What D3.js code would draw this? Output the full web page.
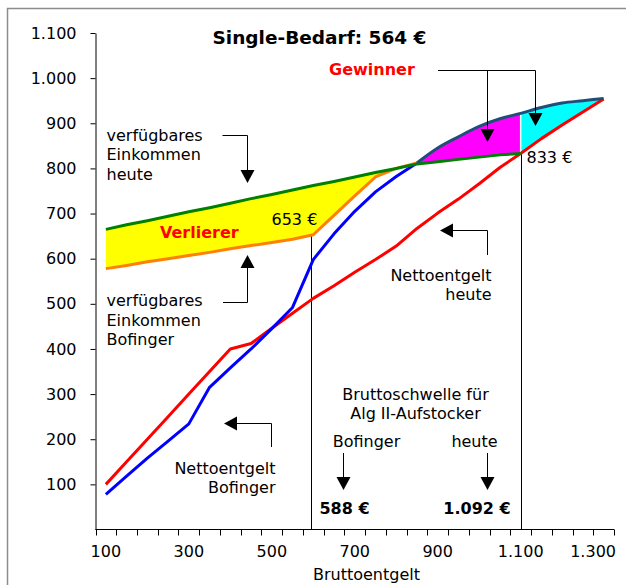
<!DOCTYPE html>
<html><head><meta charset="utf-8">
<script src="https://cdn.jsdelivr.net/npm/d3@7"></script>
<style>
body{margin:0;background:#fff}
svg{display:block}
text{font-family:"DejaVu Sans",Verdana,sans-serif;fill:#000}
</style>
</head><body>
<svg id="chart" width="626" height="585"></svg>
<script>
// ---------- data ----------
const grossCategories = [100,150,200,250,300,350,400,450,500,550,600,650,700,750,800,850,900,950,1000,1050,1100,1150,1200,1250,1300];
const verfuegbarHeute    = [665,675,684,694,704,713,723,733,742,752,762,771,781,791,800,810,815,820,825,830,833,null,null,null,null];
const verfuegbarBofinger = [578,585,593,600,607,614,622,629,636,643,653,696,739,781,800,812,null,null,null,null,null,null,null,null,null];
const nettoBofinger      = [78,118,158,196,234,315,358,400,445,492,598,655,705,748,782,812,845,870,893,910,922,935,945,950,955];
const nettoHeute         = [100,150,200,250,300,350,400,412,446,479,512,540,570,598,628,667,701,732,766,802,833,866,896,925,954];
const xTickLabels = [100,300,500,700,900,1100,1300];
const yTickValues = [100,200,300,400,500,600,700,800,900,1000,1100];
const thresholdGross = [594,1100];      // where the threshold lines are drawn
const thresholdTop   = [653,833];
const thresholdText  = ["588 €","1.092 €"];
const pointLabels    = [{c:600,v:653,t:"653 €"},{c:1100,v:833,t:"833 €"}];

// ---------- setup ----------
const de = d3.formatLocale({decimal:",",thousands:".",grouping:[3],currency:["","€"]});
const fmt = de.format(",d");
const svg = d3.select("#chart");

const x = d3.scaleBand().domain(grossCategories).range([95.5,614]).paddingInner(0).paddingOuter(0);
const xc = c => x(c) + x.bandwidth()/2;
const xLin = d3.scaleLinear().domain([100,1300]).range([xc(100), xc(1300)]);
const y = d3.scaleLinear().domain([0,1100]).range([529.5,33]);

const rows = grossCategories.map((c,i)=>({c, gH:verfuegbarHeute[i], gB:verfuegbarBofinger[i], nB:nettoBofinger[i], nH:nettoHeute[i]}));

// frame
svg.append("rect").attr("x",7.5).attr("y",8.5).attr("width",700).attr("height",700)
  .attr("fill","none").attr("stroke","#8c8c8c").attr("stroke-width",1.5);

const curve = d3.curveLinear;
const smooth = d3.curveMonotoneX;

// ---------- areas ----------
const yellowRows = rows.filter(r=>r.gH!=null && r.gB!=null);
svg.append("path").datum(yellowRows)
  .attr("d", d3.area().curve(curve).x(d=>xc(d.c)).y0(d=>y(d.gB)).y1(d=>y(d.gH)))
  .attr("fill","#ffff00");
const magentaRows = rows.filter(r=>r.c>=850 && r.c<=1100);
svg.append("path").datum(magentaRows)
  .attr("d", d3.area().curve(smooth).x(d=>xc(d.c)).y0(d=>y(d.gH)).y1(d=>y(d.nB)))
  .attr("fill","#ff00ff");
const cyanRows = rows.filter(r=>r.c>=1100);
svg.append("path").datum(cyanRows)
  .attr("d", d3.area().curve(smooth).x(d=>xc(d.c)).y0(d=>y(d.nH)).y1(d=>y(d.nB)))
  .attr("fill","#00ffff");
// white separator between magenta and cyan
svg.append("line").attr("x1",xc(1100)).attr("x2",xc(1100))
  .attr("y1",y(833)).attr("y2",y(922)).attr("stroke","#fff").attr("stroke-width",1.5);

// ---------- threshold lines ----------
thresholdGross.forEach((g,i)=>{
  svg.append("line").attr("x1",Math.round(xLin(g))+0.5).attr("x2",Math.round(xLin(g))+0.5)
    .attr("y1",y(0)).attr("y2",y(thresholdTop[i])).attr("stroke","#000").attr("stroke-width",1);
});

// ---------- lines ----------
function drawLine(key, color, filter, cv){
  const data = rows.filter(filter || (()=>true));
  svg.append("path").datum(data)
    .attr("d", d3.line().defined(d=>d[key]!=null).curve(cv||curve).x(d=>xc(d.c)).y(d=>y(d[key])))
    .attr("fill","none").attr("stroke",color).attr("stroke-width",3).attr("stroke-linejoin","round");
}
drawLine("nH","#ff0000");
drawLine("nB","#0000ff", r=>r.c<=850);
drawLine("gB","#ff8000");
drawLine("gH","#008000");
drawLine("nB","#1f4e79", r=>r.c>=850, smooth);

// ---------- axes ----------
const yAxis = d3.axisLeft(y).tickValues(yTickValues).tickSize(5).tickSizeOuter(0).tickPadding(14).tickFormat(fmt);
const gy = svg.append("g").attr("transform","translate(95.5,0)").call(yAxis);
gy.selectAll("text").style("font-size","16px").style("font-family","'DejaVu Sans',Verdana,sans-serif");
gy.select(".domain").attr("stroke","#000");

const gx = svg.append("g");
gx.append("line").attr("x1",95.5).attr("x2",614).attr("y1",529.5).attr("y2",529.5).attr("stroke","#000");
const tickPos = grossCategories.map(c=>x(c)).concat([x(1300)+x.bandwidth()]);
gx.selectAll("line.t").data(tickPos).join("line").attr("class","t")
  .attr("x1",d=>Math.round(d)+0.5).attr("x2",d=>Math.round(d)+0.5).attr("y1",529.5).attr("y2",535.5).attr("stroke","#000");
const lastLabel = xTickLabels[xTickLabels.length-1];
gx.selectAll("text").data(xTickLabels).join("text")
  .attr("x",d=> d===lastLabel ? 616 : xc(d)).attr("y",556.5)
  .attr("text-anchor",d=> d===lastLabel ? "end" : "middle").style("font-size","16px").text(d=>fmt(d));
svg.append("text").attr("x",366.5).attr("y",580).attr("text-anchor","middle").style("font-size","16px").text("Bruttoentgelt");

// ---------- annotations ----------
function arrow(tx,ty,dir){
  const w=7, l=13;
  let pts;
  if(dir==="down") pts=[[tx,ty],[tx-w,ty-l],[tx+w,ty-l]];
  else if(dir==="up") pts=[[tx,ty],[tx-w,ty+l],[tx+w,ty+l]];
  else pts=[[tx,ty],[tx+l,ty-w],[tx+l,ty+w]];
  svg.append("polygon").attr("points",pts.map(p=>p.join(",")).join(" ")).attr("fill","#000");
}
function poly(points){
  svg.append("polyline").attr("points",points.map(p=>p.join(",")).join(" "))
    .attr("fill","none").attr("stroke","#000").attr("stroke-width",1);
}
function txt(x0,y0,t,opt={}){
  const e = svg.append("text").attr("x",x0).attr("y",y0).style("font-size",(opt.size||16)+"px")
    .attr("text-anchor",opt.anchor||"start").text(t);
  if(opt.bold) e.style("font-weight","bold");
  if(opt.color) e.style("fill",opt.color);
  return e;
}

txt(319.5,43.5,"Single-Bedarf: 564 €",{size:18.5,bold:true,anchor:"middle"});

// Gewinner
txt(329,75,"Gewinner",{bold:true,color:"#ff0000"});
poly([[438,70.5],[535.5,70.5]]);
poly([[487.5,70.5],[487.5,130]]); arrow(487.5,142,"down");
poly([[535.5,70.5],[535.5,115]]); arrow(535.5,126,"down");

// verfügbares Einkommen heute
["verfügbares","Einkommen","heute"].forEach((t,i)=>txt(106.5,140.5+i*19.5,t));
poly([[222.5,135.5],[247.5,135.5],[247.5,172]]); arrow(247.5,183,"down");

txt(160,237.5,"Verlierer",{bold:true,color:"#ff0000"});

// verfügbares Einkommen Bofinger
["verfügbares","Einkommen","Bofinger"].forEach((t,i)=>txt(106.5,306+i*19.5,t));
poly([[223,302.5],[247.5,302.5],[247.5,266]]); arrow(247.5,255,"up");

// Nettoentgelt heute
txt(491.5,280.5,"Nettoentgelt",{anchor:"end"});
txt(491.5,300,"heute",{anchor:"end"});
poly([[452,230.5],[487.5,230.5],[487.5,255]]); arrow(440,230.5,"left");

// Nettoentgelt Bofinger
txt(275.5,473.5,"Nettoentgelt",{anchor:"end"});
txt(275.5,492.5,"Bofinger",{anchor:"end"});
poly([[236,423.5],[271.5,423.5],[271.5,447]]); arrow(224,423.5,"left");

// point labels
txt(271.5,225,pointLabels[0].t);
txt(526.5,162.5,pointLabels[1].t);

// Bruttoschwelle
txt(415.5,399.5,"Bruttoschwelle für",{anchor:"middle"});
txt(415.5,418.5,"Alg II-Aufstocker",{anchor:"middle"});
txt(366.5,447,"Bofinger",{anchor:"middle"});
txt(474.5,447,"heute",{anchor:"middle"});
poly([[343.5,453],[343.5,478]]); arrow(343.5,490,"down");
poly([[487.5,453],[487.5,478]]); arrow(487.5,490,"down");
txt(344.5,513.5,thresholdText[0],{bold:true,anchor:"middle"});
txt(477,513.5,thresholdText[1],{bold:true,anchor:"middle"});
</script>
</body></html>
